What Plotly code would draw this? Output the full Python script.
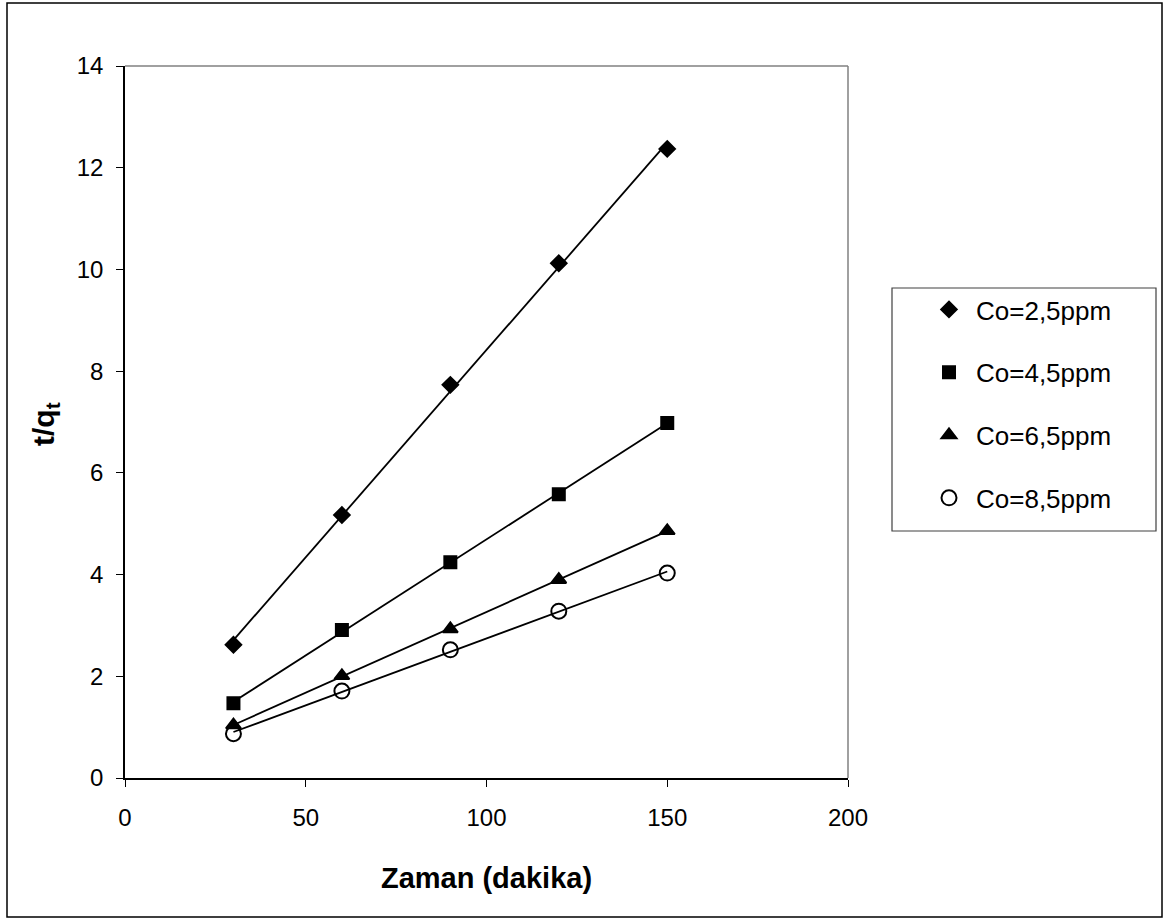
import numpy as np
import plotly.graph_objects as go

time_min = [30, 60, 90, 120, 150]
series_names = ["Co=2,5ppm", "Co=4,5ppm", "Co=6,5ppm", "Co=8,5ppm"]
co_25 = [2.62, 5.17, 7.73, 10.12, 12.37]
co_45 = [1.47, 2.91, 4.24, 5.58, 6.98]
co_65 = [1.04, 2.01, 2.93, 3.90, 4.86]
co_85 = [0.87, 1.71, 2.52, 3.28, 4.03]
series_values = [co_25, co_45, co_65, co_85]

x_ticks = [0, 50, 100, 150, 200]
y_ticks = [0, 2, 4, 6, 8, 10, 12, 14]

symbols = ["diamond", "square", "triangle-up", "circle-open"]
sizes = [12, 12, 13, 15]

W, H = 1165, 919
L, R, T, B = 125, 848, 66, 778
pw, ph = R - L, B - T


def px(x):
    return (x - L) / pw


def py(y):
    return (B - y) / ph


fig = go.Figure()
for i, (name, vals) in enumerate(zip(series_names, series_values)):
    coef = np.polyfit(time_min, vals, 1)
    xs = [time_min[0], time_min[-1]]
    fig.add_trace(go.Scatter(
        x=xs, y=list(np.polyval(coef, xs)), mode="lines",
        line=dict(color="black", width=1.8), showlegend=False, hoverinfo="skip"))
for i, (name, vals) in enumerate(zip(series_names, series_values)):
    fig.add_trace(go.Scatter(
        x=time_min, y=vals, mode="markers", name=name, legendgroup=name,
        marker=dict(symbol=symbols[i], size=sizes[i], color="black",
                    line=dict(color="black", width=2))))

fig.update_layout(
    width=W, height=H,
    margin=dict(l=L, r=W - R, t=T, b=H - B),
    paper_bgcolor="white", plot_bgcolor="white",
    font=dict(family="Liberation Sans, Arial, sans-serif", color="black"),
    showlegend=True,
    legend=dict(x=px(922), y=py(286), xanchor="left", yanchor="top",
                font=dict(size=26), tracegroupgap=26, itemwidth=44,
                bgcolor="rgba(0,0,0,0)", borderwidth=0),
    xaxis=dict(range=[0, 200], tickvals=x_ticks, showgrid=False, zeroline=False,
               showline=True, linecolor="black", linewidth=1.5,
               ticks="outside", ticklen=7, tickcolor="black", tickwidth=1,
               tickfont=dict(size=24), ticklabelstandoff=10,
               title=dict(text="<b>Zaman (dakika)</b>", font=dict(size=29), standoff=38)),
    yaxis=dict(range=[0, 14], tickvals=y_ticks, showgrid=False, zeroline=False,
               showline=True, linecolor="black", linewidth=1.5,
               ticks="outside", ticklen=7, tickcolor="black", tickwidth=1,
               tickfont=dict(size=24), ticklabelstandoff=8),
    annotations=[
        dict(text="<b>t/q<sub>t</sub></b>", xref="paper", yref="paper",
             x=px(45), y=py(424), xanchor="center", yanchor="middle",
             textangle=-90, showarrow=False, font=dict(size=30)),
    ],
    shapes=[
        dict(type="line", xref="paper", yref="paper", x0=0, x1=1, y0=1, y1=1,
             line=dict(color="#808080", width=1.5)),
        dict(type="line", xref="paper", yref="paper", x0=1, x1=1, y0=0, y1=1,
             line=dict(color="#808080", width=1.5)),
        dict(type="rect", xref="paper", yref="paper",
             x0=px(892), x1=px(1156), y0=py(531), y1=py(288),
             line=dict(color="#404040", width=1.2)),
        dict(type="rect", xref="paper", yref="paper",
             x0=px(7), x1=px(1162), y0=py(917), y1=py(3),
             line=dict(color="black", width=1.5)),
    ],
)

fig.write_html("out.html")
